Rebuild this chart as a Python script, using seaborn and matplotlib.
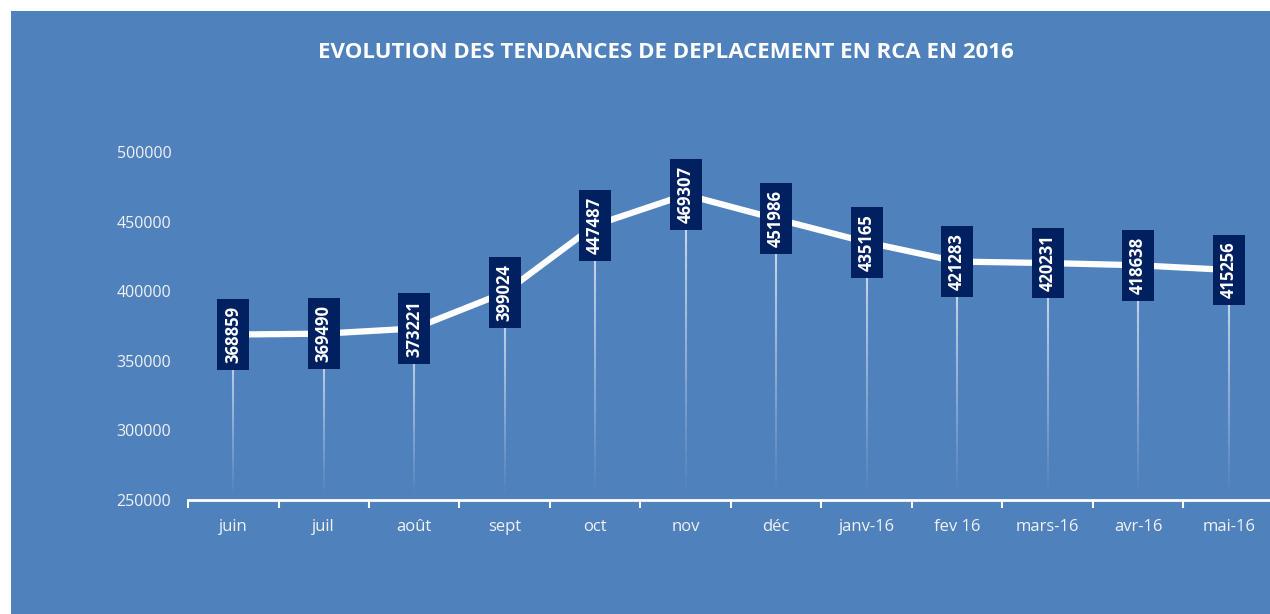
import numpy as np
import matplotlib
matplotlib.use('Agg')
import matplotlib.pyplot as plt
import seaborn as sns
from matplotlib.collections import LineCollection
from matplotlib.patches import Rectangle

# data
mois = ['juin', 'juil', 'août', 'sept', 'oct', 'nov', 'déc',
        'janv-16', 'fev 16', 'mars-16', 'avr-16', 'mai-16']
deplaces = [368859, 369490, 373221, 399024, 447487, 469307, 451986,
            435165, 421283, 420231, 418638, 415256]
y_ticks = [250000, 300000, 350000, 400000, 450000, 500000]

bleu = '#4F81BD'
marine = '#002060'

sns.set_style('white')
plt.rcParams['font.family'] = ['Open Sans', 'DejaVu Sans']

fig = plt.figure(figsize=(12.7, 6.14), dpi=100, facecolor='white')
# blue panel with a thin white border on top/left
fig.patches.append(Rectangle((11 / 1270, 0), 1, 1 - 11 / 614,
                             transform=fig.transFigure, facecolor=bleu,
                             edgecolor='none', zorder=-5))

ax = fig.add_axes([188 / 1270, 114 / 614, 1086 / 1270, 348 / 614])
ax.set_facecolor('none')
ax.set_zorder(2)

x = np.arange(len(mois))

# fading drop lines from each point to the axis
n = 25
for xi, yi in zip(x, deplaces):
    ys = np.linspace(yi, y_ticks[0], n + 1)
    segs = [[(xi, ys[k]), (xi, ys[k + 1])] for k in range(n)]
    alphas = np.linspace(0.75, 0.0, n)
    cols = [(1, 1, 1, a) for a in alphas]
    ax.add_collection(LineCollection(segs, colors=cols, linewidths=1.5, zorder=2))

sns.lineplot(x=x, y=deplaces, ax=ax, color='white', linewidth=4.5, zorder=3)

for xi, yi in zip(x, deplaces):
    ax.text(xi, yi, str(yi), rotation=90, ha='center', va='center',
            color='white', fontsize=12, fontweight='bold', zorder=4,
            bbox=dict(boxstyle='square,pad=0.42', facecolor=marine,
                      edgecolor='none'), clip_on=False)

ax.set_xlim(-0.5, len(mois) - 0.5)
ax.set_ylim(y_ticks[0], y_ticks[-1])
ax.set_xticks(x)
ax.set_xticklabels(mois, color='#F2F2F2', fontsize=12)
ax.set_xticks(np.arange(len(mois) + 1) - 0.5, minor=True)
ax.tick_params(axis='x', which='major', length=0, pad=14)
ax.tick_params(axis='x', which='minor', bottom=True, length=6, width=1.5,
               color='white', direction='out')
ax.set_yticks(y_ticks)
ax.set_yticklabels([str(v) for v in y_ticks], color='#F2F2F2', fontsize=11.5)
ax.tick_params(axis='y', length=0, pad=12)

for s in ['top', 'right', 'left']:
    ax.spines[s].set_visible(False)
ax.spines['bottom'].set_color('white')
ax.spines['bottom'].set_linewidth(2)
ax.set_xlabel('')
ax.set_ylabel('')

fig.text(666 / 1270, 1 - 52 / 614,
         'EVOLUTION DES TENDANCES DE DEPLACEMENT EN RCA EN 2016',
         ha='center', va='center', color='white', fontsize=16,
         fontweight='bold')

fig.savefig('out.png', dpi=100, facecolor='white')
